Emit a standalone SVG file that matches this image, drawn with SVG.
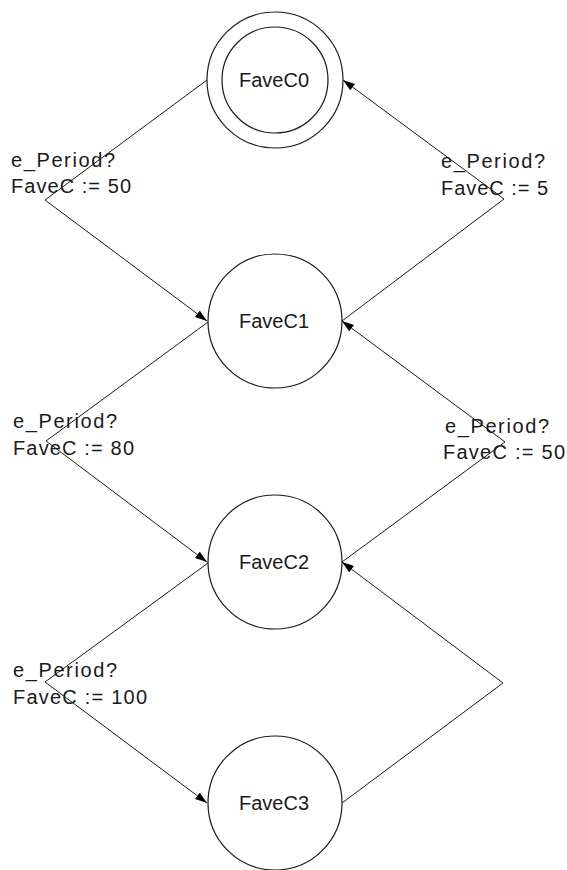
<svg xmlns="http://www.w3.org/2000/svg" width="567" height="870" viewBox="0 0 567 870">
  <style>
    .state { fill: #ffffff; stroke: #1a1a1a; stroke-width: 1.2; }
    .edge { fill: none; stroke: #1a1a1a; stroke-width: 1; }
    .name { font-family: "Liberation Sans", Arial, sans-serif; font-size: 20px; fill: #1a1a1a; text-anchor: middle; }
    .lbl { font-family: "Liberation Sans", Arial, sans-serif; font-size: 20px; fill: #1a1a1a; }
  </style>
  <defs>
    <marker id="arrow" markerUnits="userSpaceOnUse" markerWidth="13" markerHeight="9" refX="12" refY="4" orient="auto">
      <path d="M0,0 L12,4 L0,8 z" fill="#000000"/>
    </marker>
  </defs>

  <!-- transitions: each one bends at a corner point left or right of the column -->
  <g id="connectors">
    <path class="edge" d="M207,80 L45,200 L207,321" marker-end="url(#arrow)"/>
    <path class="edge" d="M342,321 L504,199 L343,80" marker-end="url(#arrow)"/>
    <path class="edge" d="M208,322 L46,441 L207,562" marker-end="url(#arrow)"/>
    <path class="edge" d="M342,562 L505,442 L342,321" marker-end="url(#arrow)"/>
    <path class="edge" d="M208,563 L45,682 L207,803" marker-end="url(#arrow)"/>
    <path class="edge" d="M342,803 L503,683 L342,562" marker-end="url(#arrow)"/>
  </g>

  <!-- transition labels -->
  <g id="labels">
    <text class="lbl" x="11" y="167" textLength="104" lengthAdjust="spacing">e_Period?</text>
    <text class="lbl" x="11" y="193" textLength="120" lengthAdjust="spacing">FaveC := 50</text>
    <text class="lbl" x="441" y="168" textLength="104" lengthAdjust="spacing">e_Period?</text>
    <text class="lbl" x="441" y="195" textLength="107" lengthAdjust="spacing">FaveC := 5</text>
    <text class="lbl" x="13" y="428" textLength="104" lengthAdjust="spacing">e_Period?</text>
    <text class="lbl" x="13" y="455" textLength="121" lengthAdjust="spacing">FaveC := 80</text>
    <text class="lbl" x="445" y="433" textLength="104" lengthAdjust="spacing">e_Period?</text>
    <text class="lbl" x="443" y="459" textLength="122" lengthAdjust="spacing">FaveC := 50</text>
    <text class="lbl" x="13" y="677" textLength="104" lengthAdjust="spacing">e_Period?</text>
    <text class="lbl" x="13" y="704" textLength="134" lengthAdjust="spacing">FaveC := 100</text>
  </g>

  <!-- states -->
  <g id="FaveC0">
    <circle class="state" cx="275" cy="80" r="68"/>
    <circle class="state" cx="275" cy="80" r="53"/>
    <text class="name" x="274" y="87">FaveC0</text>
  </g>
  <g id="FaveC1">
    <circle class="state" cx="275" cy="321" r="67"/>
    <text class="name" x="274" y="328">FaveC1</text>
  </g>
  <g id="FaveC2">
    <circle class="state" cx="275" cy="562" r="67"/>
    <text class="name" x="274" y="569">FaveC2</text>
  </g>
  <g id="FaveC3">
    <circle class="state" cx="275" cy="803" r="67"/>
    <text class="name" x="274" y="810">FaveC3</text>
  </g>
</svg>
